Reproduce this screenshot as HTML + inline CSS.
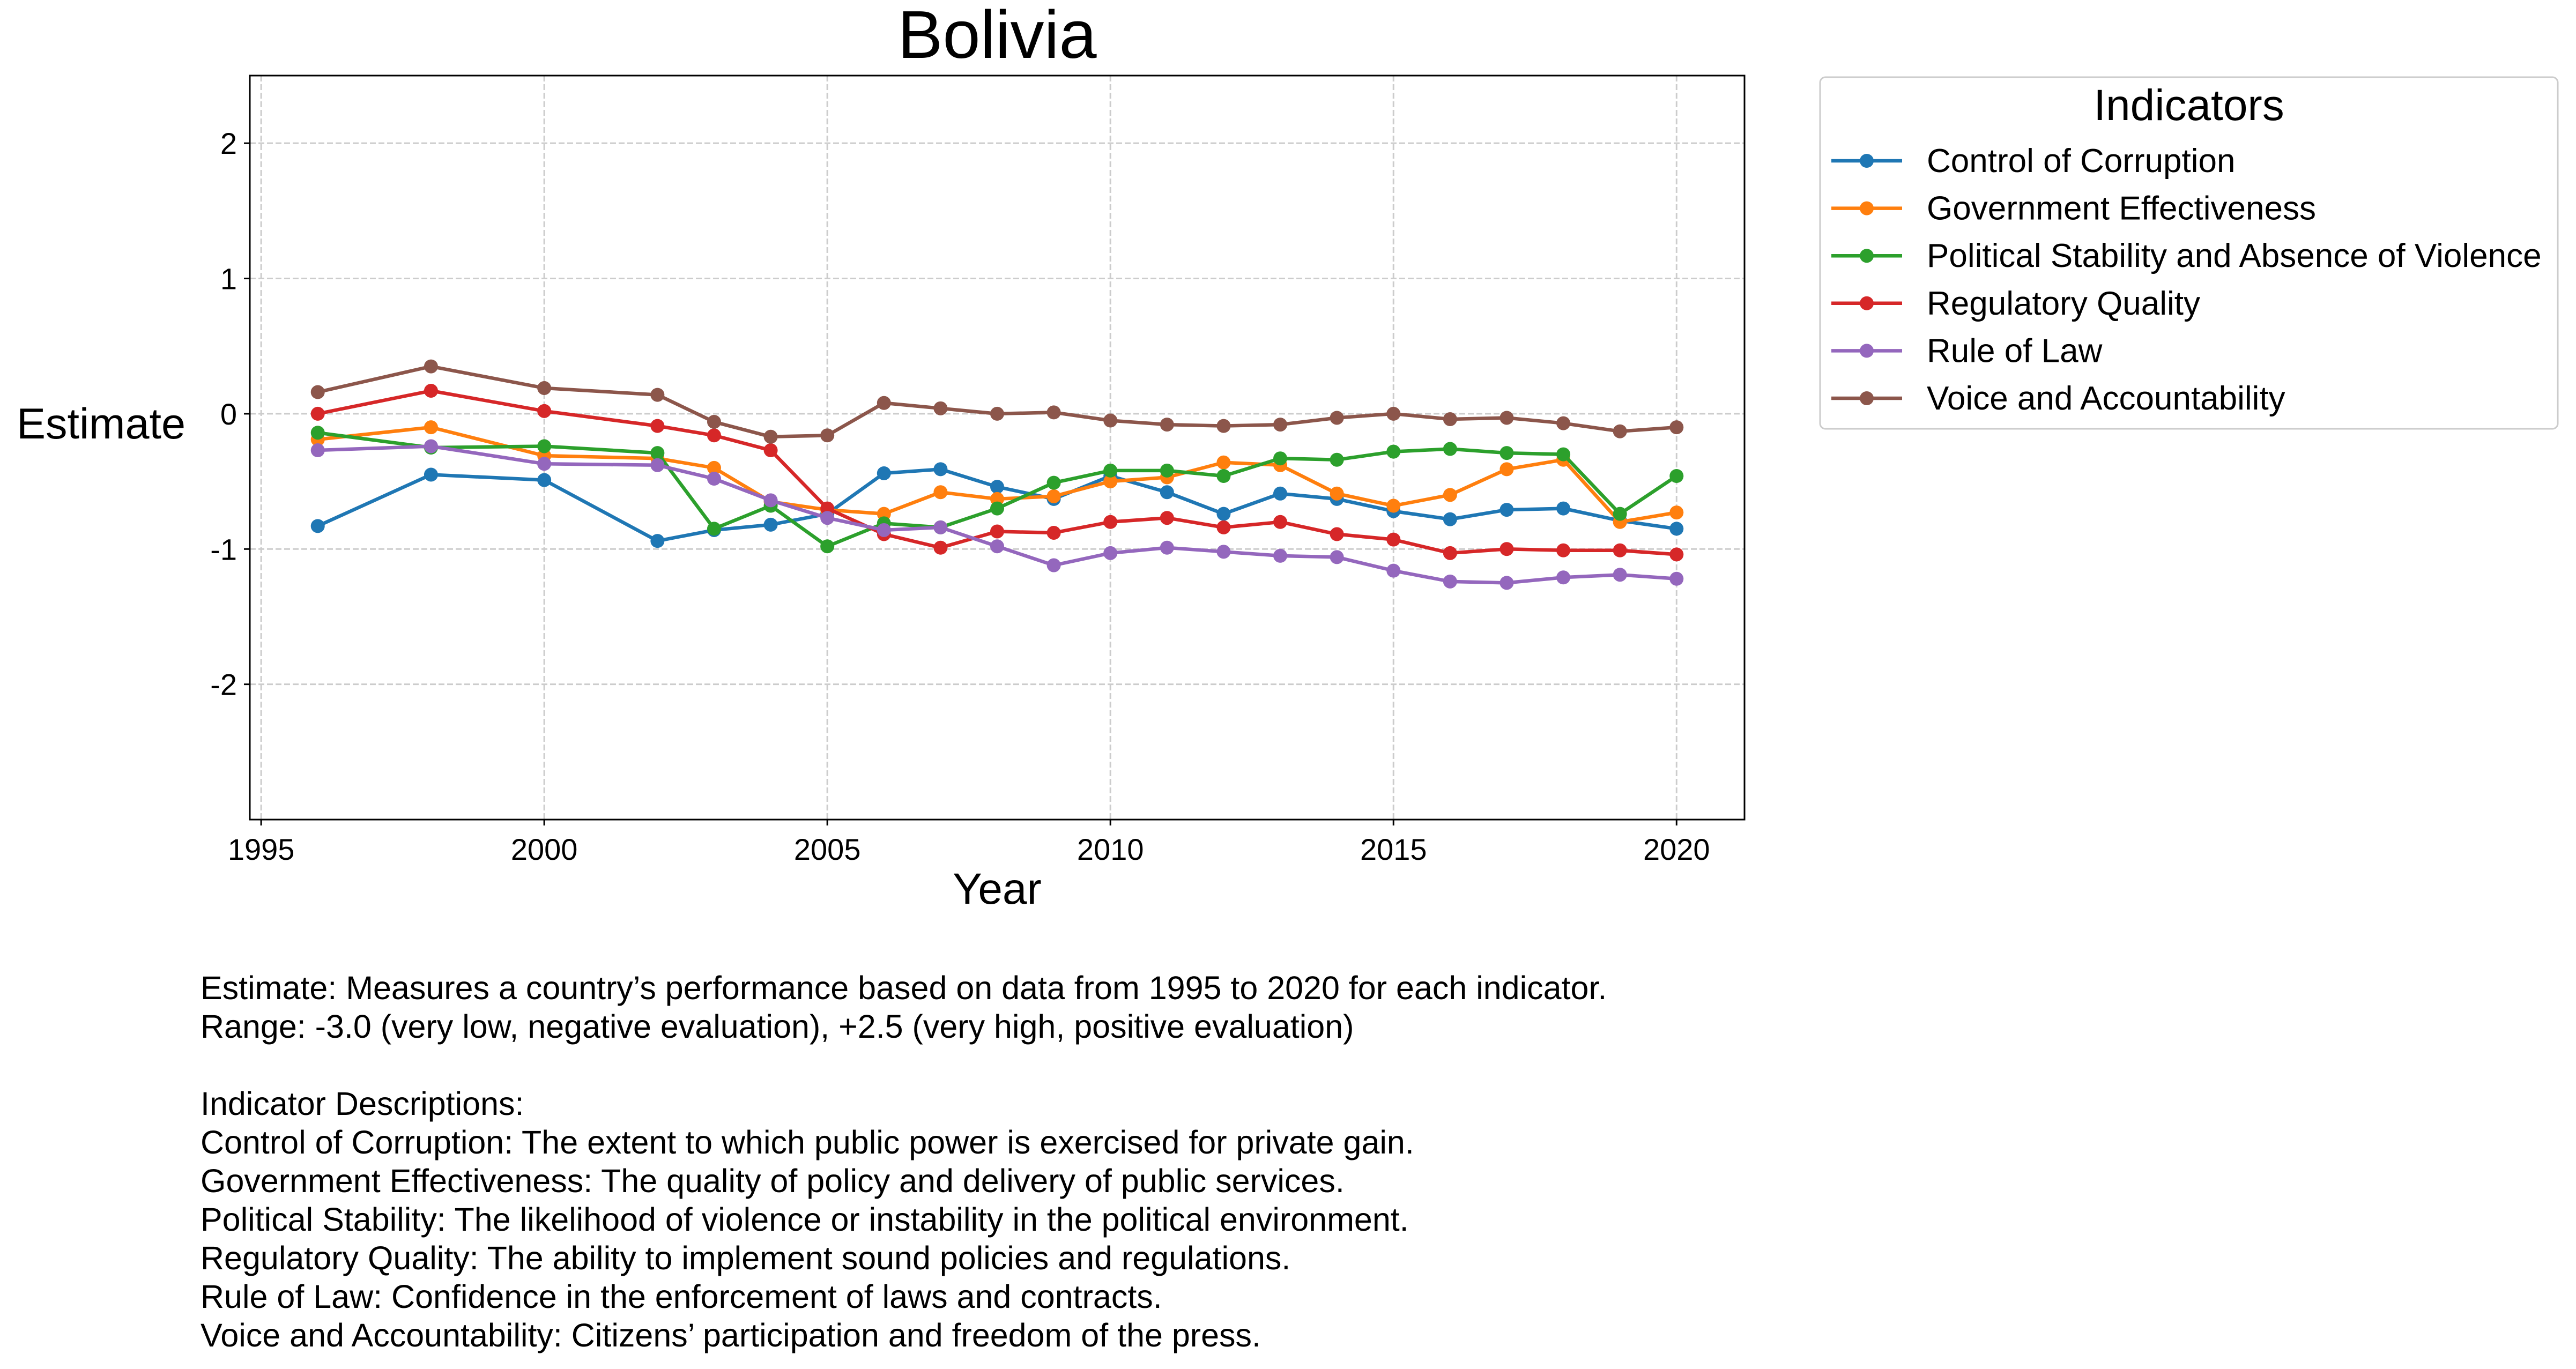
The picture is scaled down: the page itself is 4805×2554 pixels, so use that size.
<!DOCTYPE html>
<html><head><meta charset="utf-8"><style>
html,body{margin:0;padding:0;background:#fff}
svg{display:block}
text{font-family:"Liberation Sans",Arial,sans-serif;fill:#000}
</style></head><body>
<svg id="chart" width="4805" height="2554" viewBox="0 0 4805 2554" xmlns="http://www.w3.org/2000/svg">
<rect width="4805" height="2554" fill="#fff"/>
<g id="grid"></g>
<g id="series"></g>
<rect x="466" y="141" width="2788" height="1388" fill="none" stroke="#000" stroke-width="3"/>
<g id="ticks"></g>
<text x="1860" y="108" font-size="126" text-anchor="middle">Bolivia</text>
<text x="1860" y="1686" font-size="82" text-anchor="middle">Year</text>
<text x="31" y="818" font-size="81">Estimate</text>
<g>
<rect x="3395" y="144" width="1376" height="656" rx="10" fill="#fff" stroke="#ccc" stroke-width="3"/>
<text x="4083" y="224" font-size="82" text-anchor="middle">Indicators</text>
<g id="legend-items"></g>
</g>
<g font-size="61">
<text x="374" y="1864">Estimate: Measures a country’s performance based on data from 1995 to 2020 for each indicator.</text>
<text x="374" y="1936">Range: -3.0 (very low, negative evaluation), +2.5 (very high, positive evaluation)</text>
<text x="374" y="2080">Indicator Descriptions:</text>
<text x="374" y="2152">Control of Corruption: The extent to which public power is exercised for private gain.</text>
<text x="374" y="2224">Government Effectiveness: The quality of policy and delivery of public services.</text>
<text x="374" y="2296">Political Stability: The likelihood of violence or instability in the political environment.</text>
<text x="374" y="2368">Regulatory Quality: The ability to implement sound policies and regulations.</text>
<text x="374" y="2440">Rule of Law: Confidence in the enforcement of laws and contracts.</text>
<text x="374" y="2512">Voice and Accountability: Citizens’ participation and freedom of the press.</text>
</g>
</svg>
<script>
const years=[1996,1998,2000,2002,2003,2004,2005,2006,2007,2008,2009,2010,2011,2012,2013,2014,2015,2016,2017,2018,2019,2020];
const seriesNames=["Control of Corruption","Government Effectiveness","Political Stability and Absence of Violence","Regulatory Quality","Rule of Law","Voice and Accountability"];
const controlCorruption=[-0.83,-0.45,-0.49,-0.94,-0.86,-0.82,-0.74,-0.44,-0.41,-0.54,-0.63,-0.46,-0.58,-0.74,-0.59,-0.63,-0.72,-0.78,-0.71,-0.70,-0.79,-0.85];
const govEffectiveness=[-0.19,-0.10,-0.31,-0.33,-0.40,-0.65,-0.71,-0.74,-0.58,-0.63,-0.61,-0.50,-0.47,-0.36,-0.38,-0.59,-0.68,-0.60,-0.41,-0.34,-0.80,-0.73];
const politicalStability=[-0.14,-0.25,-0.24,-0.29,-0.85,-0.68,-0.98,-0.81,-0.84,-0.70,-0.51,-0.42,-0.42,-0.46,-0.33,-0.34,-0.28,-0.26,-0.29,-0.30,-0.74,-0.46];
const regulatoryQuality=[0.00,0.17,0.02,-0.09,-0.16,-0.27,-0.70,-0.89,-0.99,-0.87,-0.88,-0.80,-0.77,-0.84,-0.80,-0.89,-0.93,-1.03,-1.00,-1.01,-1.01,-1.04];
const ruleOfLaw=[-0.27,-0.24,-0.37,-0.38,-0.48,-0.64,-0.77,-0.86,-0.84,-0.98,-1.12,-1.03,-0.99,-1.02,-1.05,-1.06,-1.16,-1.24,-1.25,-1.21,-1.19,-1.22];
const voiceAccountability=[0.16,0.35,0.19,0.14,-0.06,-0.17,-0.16,0.08,0.04,0.00,0.01,-0.05,-0.08,-0.09,-0.08,-0.03,0.00,-0.04,-0.03,-0.07,-0.13,-0.10];
const xTicks=[1995,2000,2005,2010,2015,2020];
const yTicks=[2,1,0,-1,-2];
const yTickLabels=["2","1","0","-1","-2"];
const colors=["#1f77b4","#ff7f0e","#2ca02c","#d62728","#9467bd","#8c564b"];
const allSeries=[controlCorruption,govEffectiveness,politicalStability,regulatoryQuality,ruleOfLaw,voiceAccountability];
const L=466,R=3254,T=141,B=1529,X0=1994.8,X1=2021.2,Y0=-3,Y1=2.5;
const sx=v=>L+(v-X0)/(X1-X0)*(R-L);
const sy=v=>B-(v-Y0)/(Y1-Y0)*(B-T);
const NS="http://www.w3.org/2000/svg";
function mk(tag,attrs,parent){const e=document.createElementNS(NS,tag);for(const k in attrs)e.setAttribute(k,attrs[k]);parent.appendChild(e);return e;}
const grid=document.getElementById('grid'),ticks=document.getElementById('ticks'),ser=document.getElementById('series'),leg=document.getElementById('legend-items');
xTicks.forEach(t=>{
  const g=mk('line',{x1:sx(t),x2:sx(t),y1:T,y2:B,stroke:'#ccc','stroke-width':3,'stroke-dasharray':'11 5'},grid);
  
  
  const tk=mk('line',{x1:sx(t),x2:sx(t),y1:B,y2:B+11,stroke:'#000','stroke-width':3},ticks);
  
  
  const tx=mk('text',{x:sx(t),y:B+75,'font-size':56,'text-anchor':'middle'},ticks);
  tx.textContent=t;
  
  
});
yTicks.forEach((t,i)=>{
  const g=mk('line',{x1:L,x2:R,y1:sy(t),y2:sy(t),stroke:'#ccc','stroke-width':3,'stroke-dasharray':'11 5'},grid);
  
  
  const tk=mk('line',{x1:L-11,x2:L,y1:sy(t),y2:sy(t),stroke:'#000','stroke-width':3},ticks);
  
  
  const tx=mk('text',{x:L-24,y:sy(t)+20,'font-size':56,'text-anchor':'end'},ticks);
  tx.textContent=yTickLabels[i];
  
  
});
allSeries.forEach((vals,si)=>{
  const g=mk('g',{},ser);
  
  
  const pts=vals.map((v,i)=>sx(years[i])+','+sy(v)).join(' ');
  const pl=mk('polyline',{points:pts,fill:'none',stroke:colors[si],'stroke-width':6.5,'stroke-linejoin':'round'},g);
  
  
  vals.forEach((v,i)=>{
    const c=mk('circle',{cx:sx(years[i]),cy:sy(v),r:13,fill:colors[si]},g);
    
    
  });
  const ly=300+si*88.6;
  const item=mk('g',{},leg);
  
  
  mk('line',{x1:3416,x2:3548,y1:ly,y2:ly,stroke:colors[si],'stroke-width':6.5},item);
  mk('circle',{cx:3482,cy:ly,r:13,fill:colors[si]},item);
  const t=mk('text',{x:3594,y:ly+21,'font-size':62},item);
  t.textContent=seriesNames[si];
});
</script>
</body></html>
